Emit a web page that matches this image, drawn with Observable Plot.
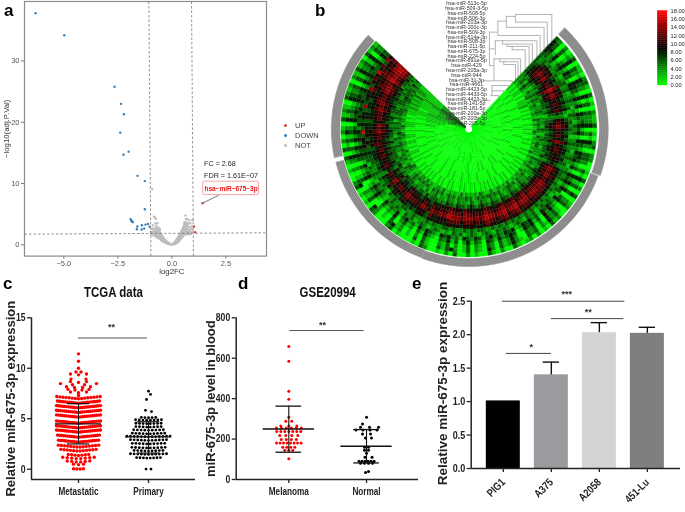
<!DOCTYPE html>
<html><head><meta charset="utf-8">
<script src="https://cdn.jsdelivr.net/npm/d3@7"></script>
<script src="https://cdn.jsdelivr.net/npm/@observablehq/plot@0.6"></script>
<style>
html,body{margin:0;padding:0;background:#fff}
#fig{position:relative;width:685px;height:512px;overflow:hidden;font-family:"Liberation Sans",Arial,sans-serif;filter:blur(.35px)}
#fig>*{position:absolute}
#fig svg{background:transparent;overflow:visible}
.let{font-weight:bold;font-size:17px;line-height:17px;color:#000}
.leg{font-size:7.5px;line-height:9px;color:#444}
.leg i{position:absolute;left:-11px;top:3px;width:3px;height:3px;border-radius:50%}
</style></head><body><div id="fig"></div>
<script>
// ---------- panel a: volcano ----------
const downX=[-6.31,-4.98,-2.65,-2.35,-2.22,-2.39,-2.0,-2.24,-1.59,-1.25,-1.25,-1.91,-1.88,-1.85,-1.81,-1.6,-1.62,-1.39,-1.40,-1.28,-1.22,-1.11,-1.03];
const downY=[37.8,34.2,25.8,23.0,21.3,18.3,15.2,14.7,11.25,10.4,5.8,4.2,4.0,3.85,3.7,3.0,2.55,3.2,2.5,2.65,3.3,3.4,2.95];
const upX=[1.42,1.03,1.08];
const upY=[6.8,3.0,2.05];
const notX=[-.05,-.08,-.1,-.12,-.15,-.17,-.2,-.2,-.23,-.25,-.27,-.28,-.3,-.3,-.33,-.35,-.35,-.37,-.38,-.4,-.4,-.43,-.43,-.45,-.46,-.48,-.5,-.5,-.52,-.55,-.55,-.57,-.58,-.6,-.6,-.63,-.65,-.67,-.68,-.7,-.72,-.72,-.75,-.76,-.78,-.8,-.8,-.83,-.84,-.86,-.88,-.9,-.93,-.95,-.91,-.97,-.74,-.66,
-.3,-.35,-.4,-.42,-.45,-.48,-.5,-.52,-.55,-.57,-.6,-.62,-.65,-.66,-.68,-.7,-.73,-.75,-.78,-.82,-.85,-.72,-.62,-.55,
.03,.05,.07,.09,.1,.12,.14,.15,.17,.18,.2,.2,.22,.23,.25,.25,.27,.28,.3,.3,.32,.33,.35,.35,.37,.38,.4,.4,.42,.43,.45,.45,.47,.48,.5,.5,.52,.53,.55,.55,.57,.58,.6,.6,.62,.63,.65,.65,.67,.68,.7,.7,.72,.75,.77,.8,.8,.83,.85,.88,.9,.92,.95,.97,
.15,.2,.25,.28,.3,.33,.35,.38,.4,.42,.45,.48,.5,.52,.55,.57,.6,.62,.65,.68,.7,.72,.75,.78,.82,.85,.88,.9,.58,.65,.62,.72,.68];
const notY=[.05,.1,.2,.12,.3,.15,.4,.25,.5,.3,.6,.4,.75,.5,.6,.9,.7,1,.75,1.15,.85,1.3,.95,1.4,1.05,1.6,1.25,1.8,1.4,2,1.5,2.3,1.7,2.6,1.9,2.1,2.4,1.6,2.8,2,3.1,2.3,1.8,3.5,2.5,2,4.5,4.6,2.7,2.2,3.2,1.9,2.6,1.7,9.1,2.1,4.2,3.5,
.3,.45,.55,.7,.8,.65,.95,1.1,.9,1.2,1.3,1.5,1.1,1.9,1.4,1.6,1.3,2.2,1.6,1.8,1.5,2.7,2.8,2.6,
.05,.1,.2,.12,.3,.2,.45,.28,.55,.35,.7,.45,.85,.55,1,.65,1.1,.75,1.25,.85,1.4,1,1.55,1.1,1.7,1.2,1.85,1.35,2,1.5,2.2,1.6,2.4,1.75,2.6,1.9,2.8,2.1,3,2.3,3.3,2.5,3.6,2.7,3,4.8,3.3,2.2,3.7,2.6,4.2,3,2.2,3.4,2.5,4,2.9,2.2,3.5,2.6,2,3,4,2.4,
.15,.25,.35,.45,.55,.65,.75,.85,.95,1.1,1.15,1.3,1.4,1.5,1.6,1.8,1.95,2.1,1.7,2,1.75,2.6,2,1.8,1.7,2,1.8,2.6,3.7,4.2,3.5,3.5,3.2];
const cutTop=[-1.065,.91], cutBottom=[-.97,1.0], cutLeftRight=[1.74,1.96];
const volcanoXTicks=[-5,-2.5,0,2.5], volcanoYTicks=[0,10,20,30];
const legendNames=["UP","DOWN","NOT"], legendColors=["#c8493a","#2f80c0","#bdbdbd"];

// ---------- panel b: circular heat map (one digit per cell, digit x 2 = expression) ----------
const heatLabels=["513c-5p","509-3-5p","508-5p","506-3p","203a-3p","200c-3p","509-3p","514a-3p","508-3p","211-5p","675-3p","224-5p","891a-5p","429","205a-3p","944","31-3p","4661","4423-5p","4433-5p","4423-3p","141-5p","181-5p","200a-3p","200b-3p","205-5p"].map(s=>"hsa-miR-"+s);
const ringEdges=[4,14,24,34,44,54,64,68,72,76,80,84,88,92,96,100,104,108,112,116,120,124,128];
const heatRows=[
"000100000000100 000000100000000 000010000000000 000000010000000 000000000100000 000100000000001 000000001000000 000010000100010 111212233334333",
"000000100000001 000100000000100 000000000100000 001000000000100 000100000000000 000000100000100 000100000000100 000000100010000 011122323334323",
"001000000100000 000000100000000 000100010000000 000000000100000 000000100000010 000100000000000 000000010000100 000100000000111 112122122233222",
"010001000010001 000100000100000 001000000001000 000100100000010 010000000100000 000001000010000 000100000100001 001000100011011 111211111221111",
"000100100001000 001000010000100 000010000100010 010000010001000 000100001000100 001001000010000 010000100100010 000100010001001 011101111121111",
"101011010111201 010100101010010 100101001010101 010010100101010 101001010010100 010100101001010 101010010101101 011011010111010 111212121312211",
"212132112312122 122131211321212 121312112211312 212113121221131 112312121213112 121131221121312 212112311212131 122123212312212 232223323232322",
"223242132323232 232132323213223 322213232312232 231323322132323 323232132322313 232132323123232 323212332132323 233232423232323 332333433332423",
"223132122323212 232122213212322 122213221322122 232122321231223 122321231222312 231221322131222 123212231223212 232231223231323 322332232323232",
"232343232432333 323123343233323 332423323432332 343233423342334 233432343233423 342323332423323 233342323432333 332423343233423 343343434233433",
"344554534464543 434323454343534 434324545445554 554655465546554 556545455645556 545445345434445 434435434234334 343434454534445 454445554655666",
"345665645575654 545324565454645 544435656556666 665766576667665 667656566756667 656556456545556 545546445345445 454545565645556 565556665766777",
"345676756686765 656425676565756 655546767667767 776777687768776 778767677767778 767667567656667 656657656456556 565656676756667 676667776877787",
"335565645475654 545325565454645 545435656556666 665666576657665 667656566656666 555456355545456 445546445245445 554655565545556 566556666766777",
"323454534364543 434213454343534 434324545445454 554555465546554 556545455545455 445445345434345 434435334234334 443544454435445 455445655665656",
"323232232332322 323132323212323 232323332323232 323232323232323 232233232322323 322323222322332 232312323232233 343353545434434 434565454664556",
"332312321232312 321232132312321 232123231232123 232132312321232 312321232132312 123212321323123 232123231232313 343545383435437 345473565846375",
"432413424314432 424143243414324 342414342431423 434132434214342 324313423413243 412342413243142 324124342143241 343424342434343 433424343334243",
"441402414304431 414042341304314 431304241403412 425031434103432 413402314203142 301241302132041 213014231042130 342414243143432 443414243424143",
"430301403204320 403032240204203 320204130302301 324020323002421 302301203102031 200130201021030 102003120031020 241303132042321 432303142314032",
"430312403214320 413032240314203 320314130402301 324120323012421 302401203102431 300130301021430 102403120431020 240313142041310 432303142314032",
"320201301102310 301021130102302 200103020301200 213010202101300 201300102003020 100230100010320 002301010320010 130302021031210 321202131203121"
].map(s=>s.replace(/ /g,""));
const sectorStart=43.5, sectorStep=2;
const rimFrom=[43.5,110,200,258], rimTo=[110,200,256,313.5], rimInner=[130.5,129.5,129,129], rimOuter=[139.5,137.5,137,137.5];
const colorbarTicks=[0,2,4,6,8,10,12,14,16,18];
// dendrogram: horizontal links (row, from height, to height) and vertical links (height, from row, to row)
const hRow=[2.3,2.7,3.9,3.7,5,6,6.7,7.8,8.5,9,9.7,9.5,13,11.6,12.2,12.8,16.2,16.2,17.2,18.3,19.3,20.3];
const hFrom=[41,27,41,14,27,1,14,10,21,28,36,1,1,8,17,23,-8,8,5,5,3,-5];
const hTo=[97,41,90,27,85,14,79,74,67,62,56,10,8,49,45,41,8,36,31,23,15,3];
const vAt=[97,90,85,79,74,67,62,56,41,27,14,1,10,21,28,36,8,17,23,49,45,41,36,31,23,15,5];
const vFrom=[2.3,3.9,5,6.7,7.8,8.5,9,9.7,2.3,2.7,3.7,6,7.8,7.8,8.5,9,11.6,11.6,12.2,11.6,12.2,12.8,16.2,17.2,18.3,19.3,17.2];
const vTo=[9.2,9.9,10.6,11.2,11.6,12.3,13,13.7,3.9,5,6.7,13,10.9,8.5,9,9.7,16.2,12.2,12.8,15.1,15.8,16.2,17.7,18.3,19,20,19.3];

// ---------- panel c: TCGA swarm (level, dots in row, gap between dots in px) ----------
const metaLevels=[11.43,10.7,10,9.6,9.35,8.85,8.6,8.3,8.05,7.8,7.57,7.3,6.98,6.54,6.08,5.62,5.16,4.56,4.09,3.67,3.17,2.68,2.18,1.79,1.36,1.03,.7,.45,0];
const metaCounts=[1,1,1,2,3,2,3,4,4,4,3,1,15,22,23,23,23,23,23,23,22,21,14,12,7,8,6,3,4];
const metaGaps=[0,0,0,5,8,15,8,12,8,7,8,0,3.1,2,2,2,2,2,2,2,2,2,3.1,3.2,3.4,4.5,4.5,5,3.3];
const primLevels=[7.73,7.4,6.9,5.82,5.7,5.1,4.85,4.5,4.17,3.85,3.5,3.2,2.85,2.5,2.1,1.8,1.46,1.1,0];
const primCounts=[1,1,1,1,1,5,8,8,8,9,10,13,11,10,10,9,11,8,2];
const primGaps=[0,0,0,0,0,3.6,3.7,3.6,3.6,3.7,3.6,3.6,3.6,3.6,3.7,3.6,3.6,3.4,5];
const primOffsets=[0,2,-2,-3,3,0,0,0,0,0,0,0,0,0,0,0,0,0,0];
const tcgaNames=["Metastatic","Primary"];
const tcgaMean=[4.5,3.2], tcgaLow=[2.5,1.6], tcgaHigh=[6.5,4.7];

// ---------- panel d: GSE20994 swarm ----------
const melLevels=[658,585,437,397,308,288,265,255,238,218,198,180,160,145,103];
const melCounts=[1,1,1,1,1,2,3,6,7,4,4,8,4,3,1];
const melGaps=[0,0,0,0,0,6,8,5,4,6,5,3.5,4,4,0];
const norLevels=[308,275,258,245,225,205,160,145,130,110,90,80,40,35];
const norCounts=[1,1,3,4,2,2,2,2,1,2,6,4,1,1];
const norGaps=[0,0,9,7,8,6,4,4,0,7,3,4,0,0];
const norOffsets=[0,-4,3,0,0,2,0,0,0,2,0,0,2,-1];
const gseNames=["Melanoma","Normal"];
const gseMean=[250,165], gseLow=[135,82], gseHigh=[363,247];

// ---------- panel e: bars ----------
const cellNames=["PIG1","A375","A2058","451-Lu"];
const cellValues=[1.01,1.4,2.03,2.02];
const cellErrors=[null,1.59,2.18,2.11];
const cellColors=["#000000","#9a9a9f","#d4d4d4","#7f7f7f"];
const sigFrom=[-.02,1,.06], sigTo=[2.53,2.51,1], sigY=[2.5,2.24,1.72], sigText=["***","**","*"];

// ---------- helpers ----------
const fig=document.getElementById("fig");
const NARROW='"Liberation Sans",sans-serif', SANS='"Liberation Sans",Arial,sans-serif';
function place(el,left,top){el.style.left=left+"px";el.style.top=top+"px";fig.appendChild(el);return el;}
function html(cls,left,top,txt){const d=document.createElement("div");d.className=cls;d.textContent=txt;return place(d,left,top);}
function swarm(levels,counts,gaps,offsets,center,pxPerUnit,tiltPerPx){
  const pts=[];
  levels.forEach((v,k)=>{const n=counts[k];for(let j=0;j<n;j++){const off=(j-(n-1)/2)*gaps[k]+(offsets?offsets[k]:0);
    pts.push({x:center+off/pxPerUnit,y:v+tiltPerPx*Math.abs(off)});}});
  return pts;
}
const base={style:{background:"transparent",fontFamily:SANS}};

// ---------- a ----------
const toPts=(X,Y)=>X.map((x,i)=>({x,y:Y[i]}));
place(Plot.plot({...base,width:300,height:280,marginLeft:24,marginRight:34,marginTop:1,marginBottom:24.4,
  x:{domain:[-6.82,4.38]},y:{domain:[-1.84,39.7]},
  marks:[
    Plot.axisX({ticks:volcanoXTicks,tickSize:3,tickPadding:2,label:null,fontSize:7.5,fill:"#555",stroke:"#777",tickFormat:d=>d.toFixed(1).replace("-","−")}),
    Plot.axisY({ticks:volcanoYTicks,tickSize:3,tickPadding:2,label:null,fontSize:7.5,fill:"#555",stroke:"#777"}),
    Plot.frame({stroke:"#8c8c8c",strokeWidth:1.2}),
    Plot.dot(toPts(notX,notY),{x:"x",y:"y",r:1.25,fill:legendColors[2]}),
    Plot.dot(toPts(downX,downY),{x:"x",y:"y",r:1.2,fill:legendColors[1]}),
    Plot.dot(toPts(upX,upY),{x:"x",y:"y",r:1.2,fill:legendColors[0]}),
    Plot.link(cutTop,{x1:d=>d,x2:(d,i)=>cutBottom[i],y1:39.7,y2:-1.84,stroke:"#777",strokeWidth:.8,strokeDasharray:"2.5 2"}),
    Plot.link([0],{x1:-6.82,x2:4.38,y1:cutLeftRight[0],y2:cutLeftRight[1],stroke:"#777",strokeWidth:.8,strokeDasharray:"2.5 2"}),
    Plot.link([0],{x1:1.42,y1:6.8,x2:2.18,y2:8.1,stroke:"#555",strokeWidth:.8}),
    Plot.rect([0],{x1:1.45,x2:4.03,y1:8.1,y2:10.3,fill:"#fff",stroke:"#f28b8b",strokeWidth:.8,rx:1.5}),
    Plot.text(["hsa−miR−675−3p"],{x:2.74,y:9.2,fill:"#f01414",fontWeight:"bold",fontSize:6.5,textAnchor:"middle"}),
    Plot.text(["FC = 2.68"],{x:1.49,y:13.3,textAnchor:"start",fontSize:7.2,fill:"#222"}),
    Plot.text(["FDR = 1.61E−07"],{x:1.49,y:11.3,textAnchor:"start",fontSize:7.2,fill:"#222"}),
    Plot.text(["log2FC"],{x:0,y:-4.35,fontSize:7.8,fill:"#333"}),
    Plot.text(["−log10(adj.P.Val)"],{frameAnchor:"left",textAnchor:"middle",rotate:-90,dx:-18,fontSize:7.8,fill:"#333"})
  ]}),0,0);
legendNames.forEach((t,i)=>{const d=html("leg",295,[121,130.5,140.5][i],t);
  const s=document.createElement("i");s.style.background=legendColors[i];d.appendChild(s);});

// ---------- b ----------
// dendrogram sits below the heat map, which hides the leaf ends
place(Plot.plot({...base,width:140,height:130,margin:0,axis:null,
  x:{domain:[0,100],range:[48.3,113.3]},y:{domain:[0,25],range:[3,122.3]},
  marks:[
    Plot.ruleY(hRow,{y:d=>d,x1:(d,i)=>hFrom[i],x2:(d,i)=>hTo[i],stroke:"#aaa",strokeWidth:.9}),
    Plot.ruleX(vAt,{x:d=>d,y1:(d,i)=>vFrom[i],y2:(d,i)=>vTo[i],stroke:"#aaa",strokeWidth:.9})
  ]}),440,0);

const heatCx=158.3, heatCy=128.5, rad=Math.PI/180;
const polar=d3.geoTransform({point(a,r){this.stream.point(heatCx+r*Math.sin(a*rad),heatCy-r*Math.cos(a*rad));}});
const cells=[];
heatRows.forEach((row,k)=>{for(let i=0;i<row.length;i++){
  const a0=sectorStart+i*sectorStep,a1=a0+sectorStep,r0=ringEdges[k],r1=ringEdges[k+1];
  cells.push({v:+row[i]*2,geom:{type:"Polygon",coordinates:[[[a0,r0],[a1,r0],[a1,r1],[a0,r1],[a0,r0]]]}});
}});
const arc=(a0,a1,r)=>d3.range(a0,a1+.01,1).map(a=>[a,r]);
const rimBands=rimFrom.map((f,i)=>({type:"Polygon",coordinates:[[...arc(f,rimTo[i],rimInner[i]),...arc(f,rimTo[i],rimOuter[i]).reverse(),[f,rimInner[i]]]]}));
const rimLines=rimFrom.flatMap((f,i)=>d3.range(1.5,rimOuter[i]-rimInner[i],1.6).map(o=>({type:"LineString",coordinates:arc(f,rimTo[i],rimInner[i]+o)})));
const heatColor={type:"linear",domain:[0,9,18],range:["#00ff00","#000000","#ff0000"]};
place(Plot.plot({...base,width:375,height:270,margin:0,projection:polar,color:heatColor,
  marks:[
    Plot.geo(cells,{geometry:d=>d.geom,fill:d=>d.v,stroke:d=>d.v,strokeWidth:.3}),
    Plot.geo(rimBands,{fill:"#848484",stroke:"#8c8c8c",strokeWidth:.4}),
    Plot.geo(rimLines,{stroke:"#b4b4b4",strokeWidth:.4,fill:"none"})
  ]}),310,0);

place(Plot.plot({...base,width:140,height:130,margin:0,axis:null,
  x:{domain:[-34,100],range:[26,113.3]},y:{domain:[0,25],range:[3,122.3]},
  marks:[Plot.text(heatLabels,{x:-34,y:(d,i)=>i,fontSize:5.3,fill:"#333",textAnchor:"middle"})]}),440,0);

place(Plot.plot({...base,width:35,height:100,marginLeft:7.3,marginRight:18,marginTop:10.5,marginBottom:15,
  x:{axis:null,domain:[0,1]},y:{domain:[0,18]},color:heatColor,
  marks:[
    Plot.rect(d3.range(0,18,.5),{x1:0,x2:1,y1:d=>d,y2:d=>d+.5,fill:d=>d+.25,stroke:d=>d+.25,strokeWidth:.3}),
    Plot.axisY({anchor:"right",ticks:colorbarTicks,tickSize:0,tickPadding:3,label:null,fontSize:5.7,fill:"#222",tickFormat:d=>d.toFixed(2)})
  ]}),650,0);

// ---------- shared swarm panel ----------
function swarmPanel(o){
  return Plot.plot({...base,width:o.width,height:o.height,marginLeft:o.ml,marginRight:o.mr,marginTop:o.mt,marginBottom:o.mb,
    x:{domain:o.xd},y:{domain:o.yd},
    marks:[
      Plot.dot(o.a,{x:"x",y:"y",r:o.ra,fill:"#ff0000"}),
      Plot.dot(o.b,{x:"x",y:"y",r:o.rb,fill:"#000000"}),
      Plot.ruleX([0,1],{x:d=>d,y1:(d,i)=>o.low[i],y2:(d,i)=>o.high[i],stroke:"#111",strokeWidth:o.ew}),
      Plot.ruleY([0,1],{y:(d,i)=>o.mean[i],x1:d=>d-o.wide,x2:d=>d+o.wide,stroke:"#111",strokeWidth:o.mw}),
      Plot.ruleY([0,1],{y:(d,i)=>o.low[i],x1:d=>d-o.cap,x2:d=>d+o.cap,stroke:"#111",strokeWidth:o.ew+.2}),
      Plot.ruleY([0,1],{y:(d,i)=>o.high[i],x1:d=>d-o.cap,x2:d=>d+o.cap,stroke:"#111",strokeWidth:o.ew+.2}),
      Plot.ruleX([o.xd[0]],{y1:o.yd[0],y2:o.top,stroke:"#222",strokeWidth:1.5}),
      Plot.ruleY([o.yd[0]],{x1:o.xd[0],x2:o.xd[1],stroke:"#222",strokeWidth:1.5}),
      Plot.axisY({ticks:o.yt,tickSize:4,tickPadding:2,strokeWidth:1.3,label:null,fontSize:10.5,fontWeight:"bold",fontFamily:NARROW,fill:"#222",stroke:"#222"}),
      Plot.axisX({ticks:[0,1],tickSize:4,tickPadding:4,strokeWidth:1.3,label:null,fontSize:10,fontWeight:"bold",fontFamily:NARROW,fill:"#222",stroke:"#222",tickFormat:d=>o.names[d]}),
      Plot.ruleY([o.sigY],{x1:o.sigX[0],x2:o.sigX[1],stroke:"#555",strokeWidth:1}),
      Plot.text(["**"],{x:o.starX,y:o.starY,fontSize:9,fontWeight:"bold",fill:"#333"}),
      Plot.text([o.title],{x:o.titleX,y:o.titleY,fontSize:14,fontWeight:"bold",fontFamily:NARROW,fill:"#111"}),
      Plot.text([o.ylabel],{frameAnchor:"left",textAnchor:"middle",rotate:-90,dx:o.ldx,dy:o.ldy,fontSize:o.lfs,fontWeight:"bold",fill:"#222"})
    ]});
}
place(swarmPanel({width:200,height:232,ml:31,mr:5,mt:37.3,mb:33,xd:[-.671,1.671],yd:[-1.02,15],top:15,yt:[0,5,10,15],
  a:swarm(metaLevels,metaCounts,metaGaps,null,0,70,.01),b:swarm(primLevels,primCounts,primGaps,primOffsets,1,70,.004),
  ra:1.7,rb:1.4,ew:1,mw:1.3,mean:tcgaMean,low:tcgaLow,high:tcgaHigh,wide:.33,cap:.16,names:tcgaNames,
  sigY:13,sigX:[0,.985],starX:.47,starY:14.1,title:"TCGA data",titleX:.5,titleY:17.5,
  ylabel:"Relative miR-675-3p expression",ldx:-21,ldy:0,lfs:13}),0,280);
place(swarmPanel({width:215,height:232,ml:35.7,mr:-3,mt:37.3,mb:33,xd:[-.677,1.669],yd:[0,800],top:800,yt:[0,200,400,600,800],
  a:swarm(melLevels,melCounts,melGaps,null,0,77.7,0),b:swarm(norLevels,norCounts,norGaps,norOffsets,1,77.7,0),
  ra:1.5,rb:1.5,ew:1.1,mw:1.5,mean:gseMean,low:gseLow,high:gseHigh,wide:.33,cap:.165,names:gseNames,
  sigY:737,sigX:[.013,.97],starX:.435,starY:765,title:"GSE20994",titleX:.5,titleY:925,
  ylabel:"miR-675-3p level in blood",ldx:-25,ldy:0,lfs:13}),200,280);

// ---------- e ----------
const bars=cellNames.map((n,i)=>({i,v:cellValues[i],e:cellErrors[i],c:cellColors[i]}));
const errs=bars.filter(b=>b.e!=null);
place(Plot.plot({...base,width:265,height:232,marginLeft:50.7,marginRight:5,marginTop:6,marginBottom:44,
  x:{domain:[-.669,3.69]},y:{domain:[0,2.72]},
  marks:[
    Plot.rect(bars,{x1:d=>d.i-.354,x2:d=>d.i+.354,y1:0,y2:"v",fill:"c"}),
    Plot.ruleX(errs,{x:"i",y1:"v",y2:"e",stroke:"#111",strokeWidth:1.4}),
    Plot.ruleY(errs,{y:"e",x1:d=>d.i-.17,x2:d=>d.i+.17,stroke:"#111",strokeWidth:1.4}),
    Plot.ruleX([-.669],{y1:0,y2:2.5,stroke:"#222",strokeWidth:1.5}),
    Plot.ruleY([0],{x1:-.669,x2:3.69,stroke:"#222",strokeWidth:1.5}),
    Plot.axisY({ticks:[0,.5,1,1.5,2,2.5],tickSize:4,tickPadding:2,strokeWidth:1.3,label:null,fontSize:11,fontWeight:"bold",fontFamily:NARROW,fill:"#222",stroke:"#222",tickFormat:d=>d.toFixed(1)}),
    Plot.axisX({ticks:[0,1,2,3],tickSize:4,label:null,text:null,strokeWidth:1.3,stroke:"#222"}),
    Plot.text(cellNames,{x:(d,i)=>i,y:0,rotate:-45,textAnchor:"end",dy:12,dx:0,fontSize:11,fontWeight:"bold",fontFamily:NARROW,fill:"#222"}),
    Plot.ruleY(sigY,{y:d=>d,x1:(d,i)=>sigFrom[i],x2:(d,i)=>sigTo[i],stroke:"#444",strokeWidth:1}),
    Plot.text(sigText,{x:(d,i)=>[1.32,1.77,.58][i],y:(d,i)=>[2.6,2.34,1.82][i],fontSize:9,fontWeight:"bold",fill:"#333"}),
    Plot.text(["Relative miR-675-3p expression"],{frameAnchor:"left",textAnchor:"middle",rotate:-90,dx:-29,dy:6,fontSize:13.5,fontWeight:"bold",fill:"#222"})
  ]}),420,280);

// ---------- panel letters ----------
html("let",4,2,"a");html("let",315,2,"b");html("let",3,275,"c");html("let",238,275,"d");html("let",412,275,"e");

// condensed labels: no narrow face is installed, so squeeze the real text
fig.querySelectorAll("text").forEach(t=>{
  const g=t.closest("[font-family]");
  if(g&&g.getAttribute("font-family")===NARROW){
    t.setAttribute("textLength",t.getComputedTextLength()*.82);
    t.setAttribute("lengthAdjust","spacingAndGlyphs");
  }
});
</script></body></html>
